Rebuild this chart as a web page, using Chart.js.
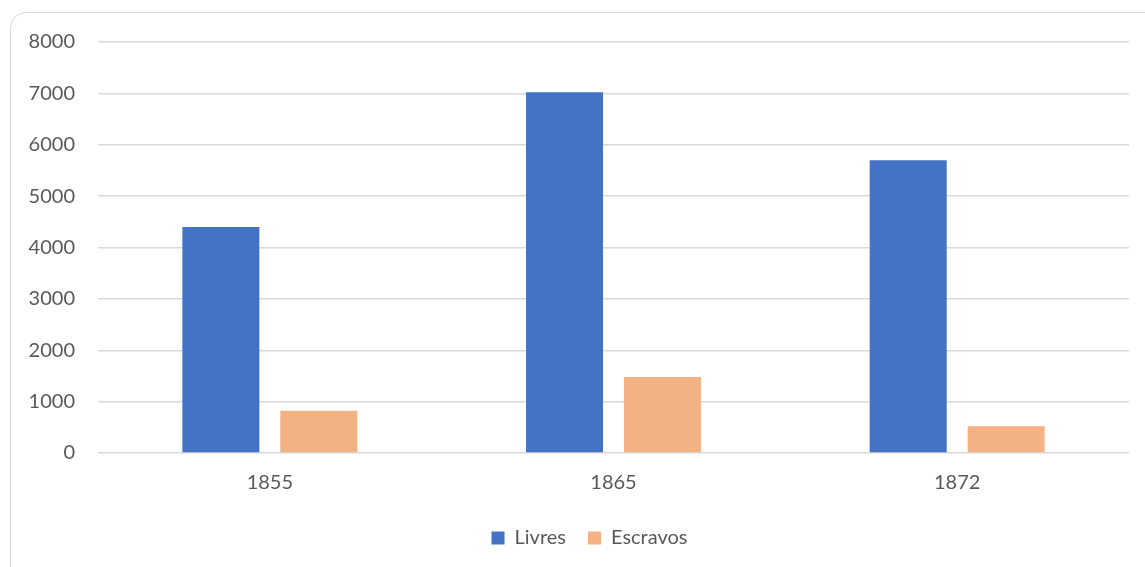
<!DOCTYPE html>
<html>
<head>
<meta charset="utf-8">
<script src="https://cdn.jsdelivr.net/npm/chart.js@4"></script>
<style>
  body { margin: 0; background: #fff; overflow: hidden; }
  .frame {
    position: absolute; left: 10px; top: 12px; width: 1160px; height: 580px;
    border: 1px solid #d9d9d9; border-radius: 16px; box-sizing: border-box;
  }
  #grafico { position: absolute; left: 0; top: 0; }
</style>
</head>
<body>
<div class="frame"></div>
<canvas id="grafico" width="1145" height="567"></canvas>
<script>
const anos = ['1855', '1865', '1872'];
const livres = [4400, 7020, 5700];
const escravos = [820, 1480, 520];
const yTicks = [0, 1000, 2000, 3000, 4000, 5000, 6000, 7000, 8000];

const fonte = "Lato, 'Open Sans', sans-serif";
const cinza = '#595959';

// the legend sits a little right of centre in the original
const moverLegenda = {
  id: 'moverLegenda',
  afterLayout(chart) {
    chart.legend.left += 25;
    chart.legend.right += 25;
  }
};

const ctx = document.getElementById('grafico').getContext('2d');
new Chart(ctx, {
  type: 'bar',
  data: {
    labels: anos,
    datasets: [
      { label: 'Livres', data: livres, backgroundColor: '#4472C4' },
      { label: 'Escravos', data: escravos, backgroundColor: '#F4B183' }
    ]
  },
  options: {
    responsive: false,
    animation: false,
    categoryPercentage: 0.57,
    barPercentage: 0.786,
    layout: { padding: { left: 0, right: 16, top: 42, bottom: 9 } },
    plugins: {
      legend: {
        position: 'bottom',
        labels: {
          color: cinza,
          font: { family: fonte, size: 20 },
          boxWidth: 13,
          boxHeight: 13,
          padding: 22
        }
      },
      tooltip: { enabled: false }
    },
    scales: {
      x: {
        grid: { display: false },
        border: { display: false },
        ticks: { color: cinza, font: { family: fonte, size: 20 }, padding: 10 },
        afterFit: (scale) => { scale.height = 53; }
      },
      y: {
        min: 0,
        max: 8000,
        afterBuildTicks: (scale) => { scale.ticks = yTicks.map(v => ({ value: v })); },
        grid: { color: '#d9d9d9', lineWidth: 1.5, drawTicks: false },
        border: { display: false },
        ticks: {
          color: cinza,
          font: { family: fonte, size: 20 },
          padding: 23,
          callback: (v) => String(v)
        },
        afterFit: (scale) => { scale.width = 98; }
      }
    }
  },
  plugins: [moverLegenda]
});
</script>
</body>
</html>
